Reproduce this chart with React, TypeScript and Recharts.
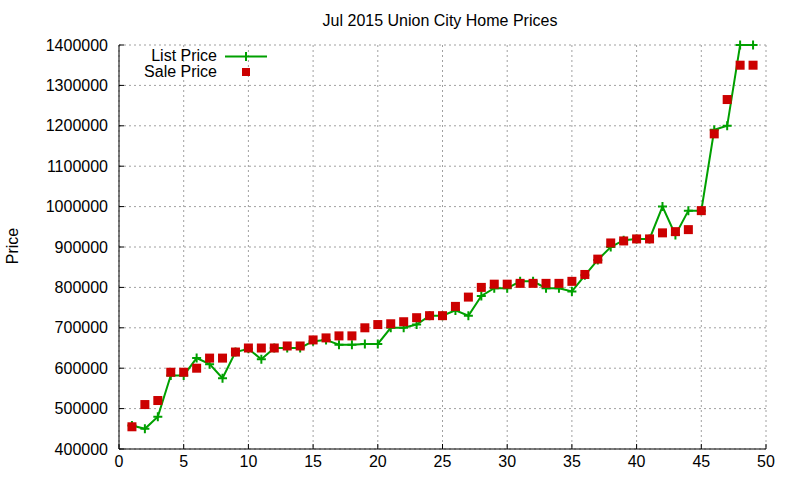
import React from 'react';
import { LineChart, Line, XAxis, YAxis, CartesianGrid } from 'recharts';

const days = [
  1, 2, 3, 4, 5, 6, 7, 8, 9, 10,
  11, 12, 13, 14, 15, 16, 17, 18, 19, 20,
  21, 22, 23, 24, 25, 26, 27, 28, 29, 30,
  31, 32, 33, 34, 35, 36, 37, 38, 39, 40,
  41, 42, 43, 44, 45, 46, 47, 48, 49,
];

const listPrice = [
  458000, 450000, 480000, 582000, 582000, 625000, 610000, 575000, 640000, 648000,
  622000, 650000, 650000, 650000, 667000, 670000, 658000, 658000, 660000, 660000,
  700000, 700000, 708000, 730000, 730000, 743000, 730000, 779000, 798000, 798000,
  815000, 815000, 798000, 798000, 790000, 830000, 868000, 900000, 917000, 920000,
  920000, 1000000, 930000, 990000, 990000, 1190000, 1200000, 1400000, 1400000,
];

const salePrice = [
  455000, 510000, 520000, 590000, 590000, 600000, 625000, 625000, 640000, 650000,
  650000, 650000, 655000, 655000, 670000, 675000, 680000, 680000, 700000, 708000,
  710000, 715000, 725000, 730000, 730000, 753000, 776000, 800000, 808000, 808000,
  810000, 810000, 810000, 810000, 815000, 832000, 870000, 910000, 915000, 920000,
  920000, 935000, 938000, 943000, 990000, 1180000, 1265000, 1350000, 1350000,
];

const xTicks = [0, 5, 10, 15, 20, 25, 30, 35, 40, 45, 50];
const yTicks = [400000, 500000, 600000, 700000, 800000, 900000, 1000000, 1100000, 1200000, 1300000, 1400000];

const GREEN = '#00a000';
const RED = '#cc0000';
const FONT = '"Liberation Sans", Arial, sans-serif';

const data = days.map((d, i) => ({ day: d, list: listPrice[i], sale: salePrice[i] }));

const Cross = (props: any) => {
  const { cx, cy } = props;
  if (cx == null || cy == null) return <g />;
  return (
    <path d={`M${cx - 4.5},${cy}H${cx + 4.5}M${cx},${cy - 4.5}V${cy + 4.5}`} stroke={GREEN} strokeWidth={2} fill="none" />
  );
};

const Square = (props: any) => {
  const { cx, cy } = props;
  if (cx == null || cy == null) return <g />;
  return <rect x={cx - 4.5} y={cy - 4.5} width={9} height={9} fill={RED} />;
};

const tickStyle = { fill: '#000', fontSize: 16, fontFamily: FONT };

export default function App() {
  return (
    <div style={{ position: 'absolute', left: 0, top: 0, width: 800, height: 480, background: '#fff', fontFamily: FONT }}>
      <LineChart width={800} height={480} data={data} margin={{ top: 45, right: 34, bottom: 0, left: 0 }}>
        <CartesianGrid stroke="#a0a0a0" strokeDasharray="2 3" />
        <XAxis
          dataKey="day"
          type="number"
          domain={[0, 50]}
          ticks={xTicks}
          height={31}
          tickSize={-5}
          tickMargin={12}
          stroke="#000"
          tick={tickStyle}
          interval={0}
        />
        <XAxis
          xAxisId="top"
          orientation="top"
          type="number"
          domain={[0, 50]}
          ticks={xTicks}
          height={0}
          tickSize={-5}
          stroke="#000"
          tick={false}
        />
        <YAxis
          type="number"
          domain={[400000, 1400000]}
          ticks={yTicks}
          width={119}
          tickSize={-5}
          tickMargin={16}
          stroke="#000"
          tick={tickStyle}
          interval={0}
        />
        <YAxis
          yAxisId="right"
          orientation="right"
          type="number"
          domain={[400000, 1400000]}
          ticks={yTicks}
          width={0}
          tickSize={-5}
          stroke="#000"
          tick={false}
        />
        <Line
          type="linear"
          dataKey="list"
          stroke={GREEN}
          strokeWidth={2}
          dot={<Cross />}
          activeDot={false}
          isAnimationActive={false}
        />
        <Line
          type="linear"
          dataKey="sale"
          stroke="none"
          strokeWidth={0}
          dot={<Square />}
          activeDot={false}
          isAnimationActive={false}
        />
      </LineChart>
      <svg width={800} height={480} style={{ position: 'absolute', left: 0, top: 0, pointerEvents: 'none' }}>
        <text x={440} y={26} textAnchor="middle" fontSize={16} fontFamily={FONT} fill="#000">
          Jul 2015 Union City Home Prices
        </text>
        <text x={18} y={246} textAnchor="middle" fontSize={16} fontFamily={FONT} fill="#000" transform="rotate(-90 18 246)">
          Price
        </text>
        <text x={217} y={61} textAnchor="end" fontSize={16} fontFamily={FONT} fill="#000">List Price</text>
        <line x1={225} y1={56.5} x2={267} y2={56.5} stroke={GREEN} strokeWidth={2} />
        <path d="M246,52V61" stroke={GREEN} strokeWidth={2} />
        <text x={217} y={77} textAnchor="end" fontSize={16} fontFamily={FONT} fill="#000">Sale Price</text>
        <rect x={242} y={68} width={8} height={8} fill={RED} />
      </svg>
    </div>
  );
}
